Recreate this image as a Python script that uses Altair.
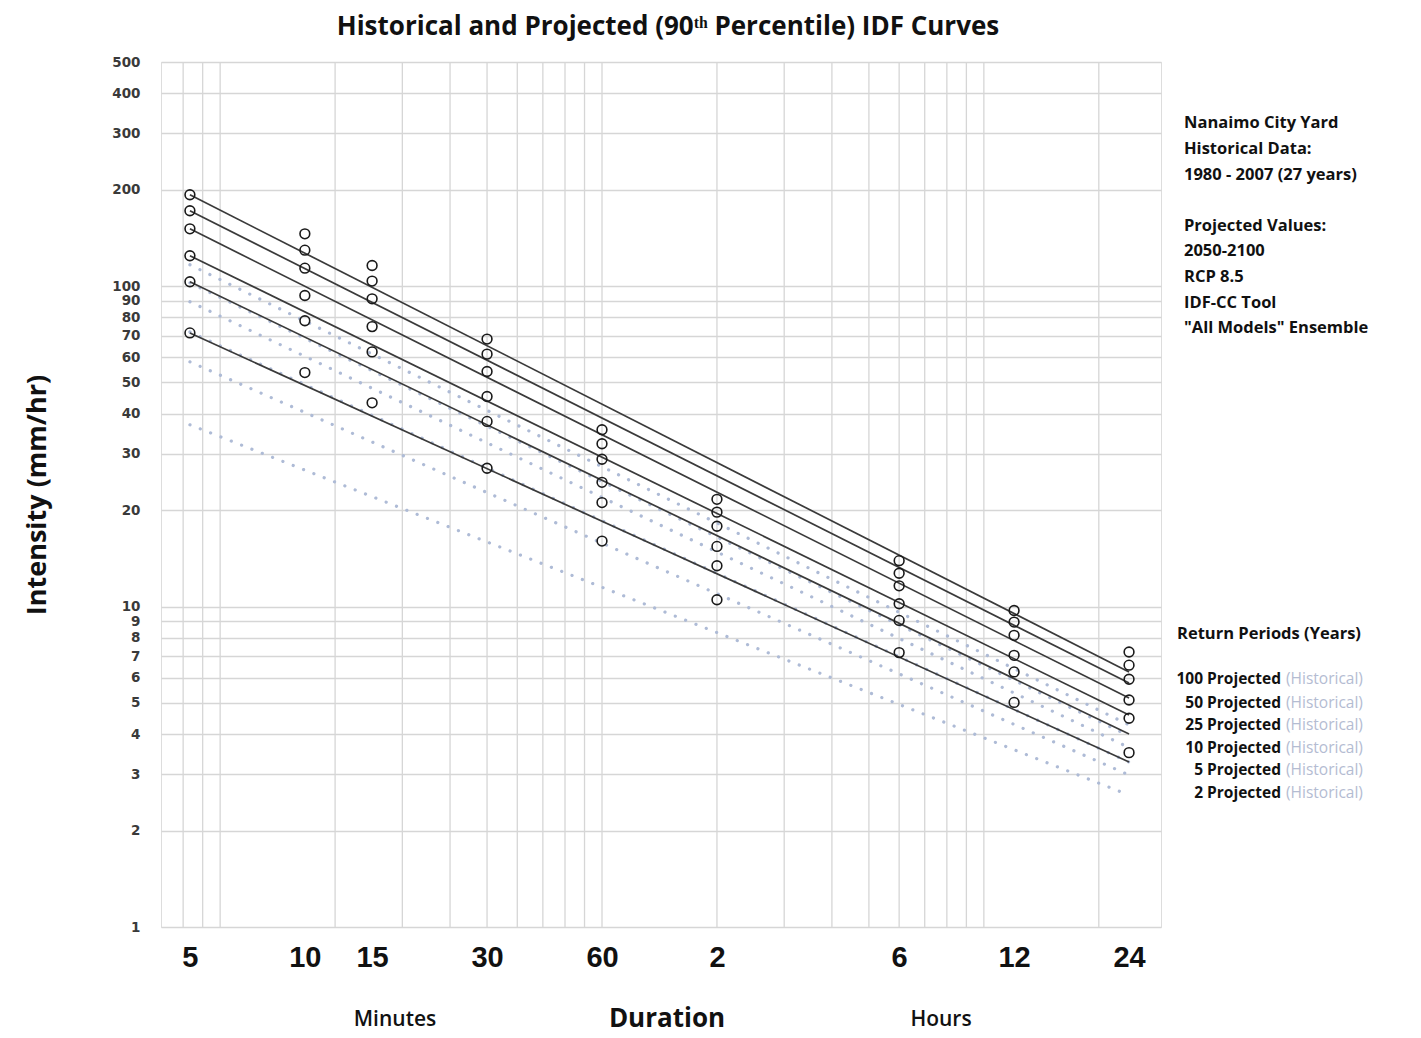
import altair as alt
import pandas as pd

# ---------------- data ----------------
durations_min = [5, 10, 15, 30, 60, 120, 360, 720, 1440]
x_tick_labels = ["5", "10", "15", "30", "60", "2", "6", "12", "24"]
return_periods = [100, 50, 25, 10, 5, 2]

# projected (90th percentile) point values, mm/hr, per return period
proj_100 = [192.6, 145.5, 115.9, 68.3, 35.6, 21.6, 13.9, 9.72, 7.21]
proj_50 = [171.7, 129.4, 103.6, 61.3, 32.2, 19.7, 12.7, 8.94, 6.56]
proj_25 = [150.8, 113.7, 91.2, 54.1, 28.8, 17.8, 11.6, 8.13, 5.93]
proj_10 = [124.3, 93.4, 74.7, 45.2, 24.4, 15.4, 10.2, 7.04, 5.11]
proj_5 = [103.1, 77.9, 62.3, 37.8, 21.1, 13.4, 9.05, 6.25, 4.48]
proj_2 = [71.4, 53.7, 43.2, 27.0, 16.0, 10.5, 7.18, 5.02, 3.50]
proj_points = [proj_100, proj_50, proj_25, proj_10, proj_5, proj_2]

# fitted projected curves (solid): value at 5 min and at 24 h
proj_line_5min = [192.6, 171.7, 150.8, 124.3, 103.1, 71.4]
proj_line_24h = [6.25, 5.77, 5.18, 4.59, 4.00, 3.27]
# historical curves (dotted): value at 5 min and at 24 h
hist_line_5min = [116.5, 102.3, 89.3, 71.9, 58.0, 36.9]
hist_line_24h = [4.27, 3.95, 3.63, 3.27, 2.98, 2.58]

x_grid_hours = [0.08, 0.09, 0.1, 0.2, 0.3, 0.4, 0.5, 0.6, 0.7, 0.8, 0.9,
                1, 2, 3, 4, 5, 6, 7, 8, 9, 10, 20]
y_ticks = [1, 2, 3, 4, 5, 6, 7, 8, 9, 10, 20, 30, 40, 50, 60, 70, 80, 90,
           100, 200, 300, 400, 500]

title_text = "Historical and Projected (90\u1d57\u02b0 Percentile) IDF Curves"
info_lines = ["Nanaimo City Yard", "Historical Data:", "1980 - 2007 (27 years)",
              "Projected Values:", "2050-2100", "RCP 8.5", "IDF-CC Tool",
              "\"All Models\" Ensemble"]
legend_title = "Return Periods (Years)"

# ---------------- tables ----------------
pts = pd.DataFrame([
    {"hours": d / 60, "value": v, "rp": rp}
    for rp, series in zip(return_periods, proj_points)
    for d, v in zip(durations_min, series)
])
proj_lines = pd.DataFrame(
    [{"hours": durations_min[0] / 60, "value": a, "rp": rp} for rp, a in zip(return_periods, proj_line_5min)] +
    [{"hours": durations_min[-1] / 60, "value": b, "rp": rp} for rp, b in zip(return_periods, proj_line_24h)]
)
hist_lines = pd.DataFrame(
    [{"hours": durations_min[0] / 60, "value": a, "rp": rp} for rp, a in zip(return_periods, hist_line_5min)] +
    [{"hours": durations_min[-1] / 60, "value": b, "rp": rp} for rp, b in zip(return_periods, hist_line_24h)]
)
grid_df = pd.DataFrame({"hours": x_grid_hours, "value": [1.0] * len(x_grid_hours),
                        "value2": [500.0] * len(x_grid_hours)})

W, H = 1000, 865
xscale = alt.Scale(type="log", domain=[0.07, 29.1], nice=False)
yscale = alt.Scale(type="log", domain=[1, 500], nice=False)

tick_hours = [d / 60 for d in durations_min]
expr = "''"
for v, lab in reversed(list(zip(tick_hours, x_tick_labels))):
    expr = f"abs(datum.value - {v}) < 1e-6 ? '{lab}' : ({expr})"

x_axis = alt.Axis(values=tick_hours, labelExpr=expr, grid=False, ticks=False, tickSize=0,
                  domain=False, labelFont="Liberation Sans", labelFontWeight="bold",
                  labelFontSize=29, labelColor="#111111", labelPadding=16, title=None,
                  labelOverlap=False, labelFlush=False)
y_axis = alt.Axis(values=y_ticks, grid=True, gridColor="#d6d6d6", gridWidth=1.3,
                  ticks=False, tickSize=0, domain=False, labelFont="DejaVu Sans",
                  labelFontWeight="bold", labelFontSize=13.5, labelColor="#3a3a3a",
                  labelPadding=21, labelOverlap=False, title=None, format="d",
                  labelFlush=False)

X = alt.X("hours:Q", scale=xscale, axis=x_axis)
Y = alt.Y("value:Q", scale=yscale, axis=y_axis)

grid = alt.Chart(grid_df).mark_rule(color="#d6d6d6", strokeWidth=1.3).encode(
    x=X, y=Y, y2="value2:Q",
)

hist = alt.Chart(hist_lines).mark_line(
    color="#aebbd6", strokeWidth=3.2, strokeDash=[0.1, 11], strokeCap="round"
).encode(x=X, y=Y, detail="rp:N")

proj = alt.Chart(proj_lines).mark_line(color="#3a3a3a", strokeWidth=1.7).encode(
    x=X, y=Y, detail="rp:N")

points = alt.Chart(pts).mark_point(
    shape="circle", filled=False, size=95, stroke="#1a1a1a", strokeWidth=1.6, opacity=1
).encode(x=X, y=Y)


def label(text, x, y, size, weight="bold", align="left", color="#111111",
          font="Open Sans", angle=0, baseline="middle"):
    kw = dict(align=align, baseline=baseline, fontSize=size, fontWeight=weight,
              font=font, color=color)
    if angle:
        kw["angle"] = angle
    return alt.Chart(pd.DataFrame({"t": [text]})).mark_text(**kw).encode(
        text="t:N", x=alt.value(x), y=alt.value(y))


texts = [
    label(title_text, 507, -35, 26, align="center"),
    label("Intensity (mm/hr)", -123, 433, 27, align="center", angle=270),
    label("Minutes", 234, 958, 21, align="center", weight=600),
    label("Duration", 506, 957, 26, align="center"),
    label("Hours", 780, 958, 21, align="center", weight=600),
    label(legend_title, 1016, 572, 16.5),
]
info_y = [61, 87, 113, 164, 189, 215, 241, 266]
for t, yy in zip(info_lines, info_y):
    texts.append(label(t, 1023, yy, 16.5))
legend_y = [617, 641, 663, 686, 708, 731]
for rp, yy in zip(return_periods, legend_y):
    texts.append(label(f"{rp} Projected", 1120, yy, 15.5, align="right"))
    texts.append(label("(Historical)", 1125, yy, 15.5, weight="normal", color="#b4bcd2"))

chart = alt.layer(grid, hist, proj, points, *texts).properties(
    width=W, height=H,
    autosize=alt.AutoSizeParams(type="none"),
    padding={"left": 153, "top": 54, "right": 252, "bottom": 110},
).configure_view(stroke="#a9a9a9", strokeWidth=3).configure(background="white")

chart.save("out.html", embed_options={"renderer": "svg", "actions": False})
